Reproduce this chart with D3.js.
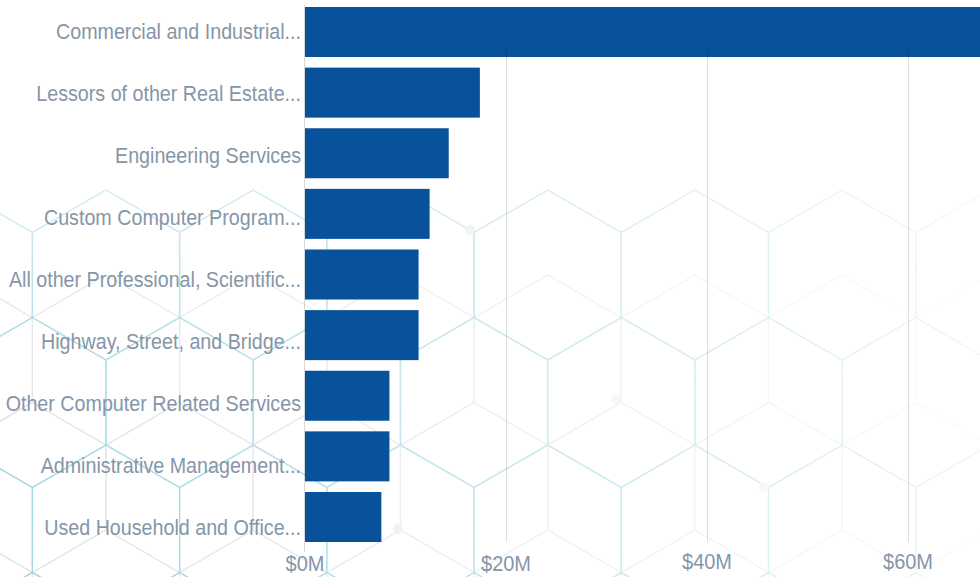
<!DOCTYPE html>
<html>
<head>
<meta charset="utf-8">
<script src="https://cdn.jsdelivr.net/npm/d3@7"></script>
<style>
  html, body { margin: 0; padding: 0; background: #fff; }
  svg { display: block; }
</style>
</head>
<body>
<div id="chart"></div>
<script>
const categories = [
  "Commercial and Industrial...",
  "Lessors of other Real Estate...",
  "Engineering Services",
  "Custom Computer Program...",
  "All other Professional, Scientific...",
  "Highway, Street, and Bridge...",
  "Other Computer Related Services",
  "Administrative Management...",
  "Used Household and Office..."
];
const values = [70.0, 17.4, 14.3, 12.4, 11.3, 11.3, 8.4, 8.4, 7.6]; // $M
const ticks = [0, 20, 40, 60];

const W = 980, H = 577;
const svg = d3.select("#chart").append("svg")
    .attr("width", W)
    .attr("height", H);

// decorative hexagon background
const defs = svg.append("defs");
const fade = defs.append("linearGradient").attr("id", "fade")
    .attr("x1", 0).attr("y1", 0).attr("x2", 1).attr("y2", 0);
fade.append("stop").attr("offset", "0%").attr("stop-color", "#fff").attr("stop-opacity", 1);
fade.append("stop").attr("offset", "100%").attr("stop-color", "#fff").attr("stop-opacity", 0.15);
defs.append("mask").attr("id", "fadeMask")
  .append("rect").attr("width", W).attr("height", H).attr("fill", "url(#fade)");

const fadeV = defs.append("linearGradient").attr("id", "fadeV")
    .attr("x1", 0).attr("y1", 0).attr("x2", 0.6).attr("y2", 1);
fadeV.append("stop").attr("offset", "0%").attr("stop-color", "#fff").attr("stop-opacity", 0.05);
fadeV.append("stop").attr("offset", "45%").attr("stop-color", "#fff").attr("stop-opacity", 0.75);
fadeV.append("stop").attr("offset", "100%").attr("stop-color", "#fff").attr("stop-opacity", 1);
defs.append("mask").attr("id", "cyanMask")
  .append("rect").attr("width", W).attr("height", H).attr("fill", "url(#fadeV)");

const s = 85, hw = s * Math.sqrt(3) / 2;
function hexPath(cx, cy) {
  const pts = d3.range(6).map(i => {
    const a = Math.PI / 180 * (60 * i - 90);
    return [cx + s * Math.cos(a), cy + s * Math.sin(a)];
  });
  return "M" + pts.join("L") + "Z";
}
function hexCenters(oy) {
  const out = [];
  for (let r = -2; r < 7; r++) {
    const cy = oy + r * 1.5 * s;
    const ox = (r % 2 === 0) ? 106 : 106 + hw;
    for (let c = -2; c < 9; c++) out.push([ox + c * 2 * hw, cy]);
  }
  return out;
}

const bg = svg.append("g").attr("mask", "url(#fadeMask)");
bg.append("g")
  .selectAll("path")
  .data(hexCenters(530 + s))
  .join("path")
    .attr("d", d => hexPath(d[0], d[1]))
    .attr("fill", "none")
    .attr("stroke", "#e4e4e4")
    .attr("stroke-width", 1.2);
bg.append("g").attr("mask", "url(#cyanMask)")
  .selectAll("path")
  .data(hexCenters(530))
  .join("path")
    .attr("d", d => hexPath(d[0], d[1]))
    .attr("fill", "none")
    .attr("stroke", "#94d2dc")
    .attr("stroke-width", 1.3);
bg.selectAll("circle")
  .data([[398, 529], [617, 400], [470, 230], [764, 487]])
  .join("circle")
    .attr("cx", d => d[0]).attr("cy", d => d[1]).attr("r", 5)
    .attr("fill", "#ebebeb");

// scales
const x = d3.scaleLinear().domain([0, 60]).range([305, 908]);
const y = d3.scaleBand().domain(categories).range([1.7, 547.3])
    .paddingInner(0.175).paddingOuter(0.0875);
// the category labels sit on a slightly wider pitch than the bars
const yLabel = d3.scalePoint().domain(categories).range([31.5, 527.5]);

const labelColor = "#8596a8";
const font = "'Liberation Sans', Arial, sans-serif";

// bars
svg.append("g")
  .selectAll("rect")
  .data(categories)
  .join("rect")
    .attr("x", x(0))
    .attr("y", d => y(d))
    .attr("width", (d, i) => x(values[i]) - x(0))
    .attr("height", y.bandwidth())
    .attr("fill", "#08529c");

// gridlines
svg.append("g")
  .selectAll("line")
  .data(ticks.slice(1))
  .join("line")
    .attr("x1", d => x(d) + 0.5).attr("x2", d => x(d) + 0.5)
    .attr("y1", 45).attr("y2", 542)
    .attr("stroke", "rgba(0,0,0,0.13)")
    .attr("stroke-width", 1);

svg.append("line")
    .attr("x1", x(0) - 0.5).attr("x2", x(0) - 0.5)
    .attr("y1", 5).attr("y2", 552)
    .attr("stroke", "rgba(0,0,0,0.15)");

// x axis labels
svg.append("g")
  .selectAll("text")
  .data(ticks)
  .join("text")
    .attr("transform", (d, i) => `translate(${x(d)},${i < 2 ? 571 : 569}) scale(1,1.12)`)
    .attr("text-anchor", "middle")
    .attr("fill", labelColor)
    .style("font-family", font)
    .style("font-size", "20px")
    .text(d => `$${d}M`);

// y axis labels
svg.append("g")
  .selectAll("text")
  .data(categories)
  .join("text")
    .attr("transform", d => `translate(${x(0) - 4},${yLabel(d)}) scale(1,1.13)`)
    .attr("dy", "0.35em")
    .attr("text-anchor", "end")
    .attr("fill", labelColor)
    .style("font-family", font)
    .style("font-size", "19.7px")
    .text(d => d);
</script>
</body>
</html>
